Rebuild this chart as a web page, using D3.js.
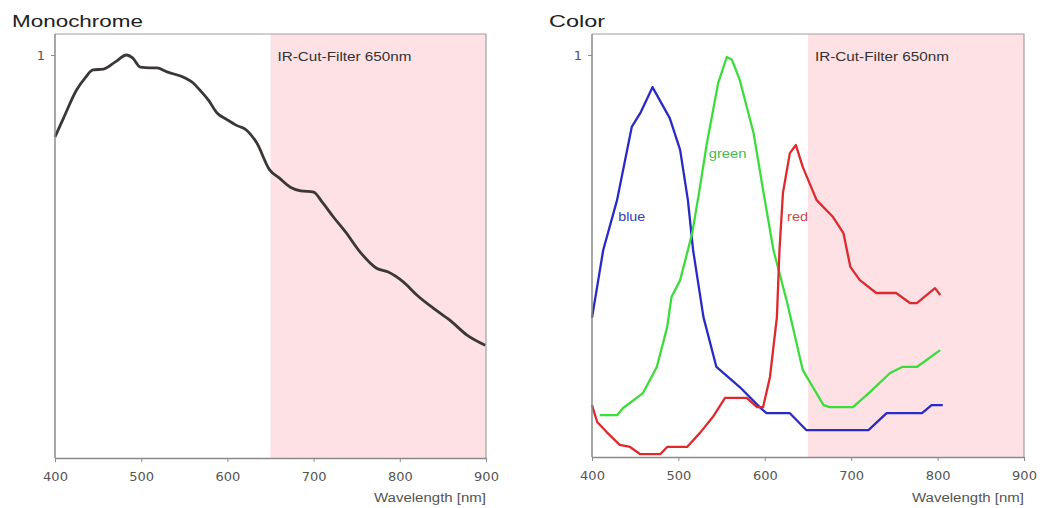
<!DOCTYPE html>
<html>
<head>
<meta charset="utf-8">
<script src="https://cdn.jsdelivr.net/npm/d3@7"></script>
<style>
  body { margin: 0; background: #fff; }
  svg { display: block; font-family: "Liberation Sans", Arial, sans-serif; }
</style>
</head>
<body>
<svg id="chart" width="1042" height="508"></svg>
<script>
// ---- data ----
const xTicks = [400, 500, 600, 700, 800, 900];
const filterStart = 650;
const filterLabel = "IR-Cut-Filter 650nm";

const monoWl  = [400, 410, 425, 435, 444, 456, 470, 483, 490, 499, 510, 518, 530, 551, 560, 568, 578, 588, 600, 610, 622, 634, 649, 660, 673, 685, 700, 710, 723, 737, 754, 773, 786, 804, 820, 840, 858, 878, 899];
const monoVal = [0.797, 0.844, 0.913, 0.943, 0.963, 0.965, 0.983, 1.0, 0.993, 0.970, 0.968, 0.968, 0.958, 0.943, 0.931, 0.913, 0.888, 0.856, 0.839, 0.826, 0.814, 0.782, 0.715, 0.695, 0.672, 0.663, 0.660, 0.635, 0.598, 0.561, 0.511, 0.471, 0.462, 0.437, 0.404, 0.370, 0.342, 0.305, 0.280];

const blueWl  = [400, 413, 429, 446, 456, 470, 490, 502, 511, 517, 529, 544, 571, 594, 602, 629, 648, 720, 741, 782, 793, 806];
const blueVal = [0.346, 0.515, 0.639, 0.821, 0.856, 0.920, 0.843, 0.764, 0.639, 0.515, 0.348, 0.224, 0.174, 0.124, 0.109, 0.109, 0.067, 0.067, 0.109, 0.109, 0.129, 0.129];

const greenWl  = [409, 429, 436, 459, 475, 487, 492, 502, 511, 516, 525, 533, 546, 556, 562, 571, 587, 598, 610, 626, 644, 668, 675, 702, 722, 745, 759, 776, 803];
const greenVal = [0.104, 0.104, 0.122, 0.159, 0.224, 0.323, 0.398, 0.440, 0.515, 0.557, 0.672, 0.781, 0.930, 0.995, 0.988, 0.938, 0.806, 0.664, 0.515, 0.383, 0.216, 0.129, 0.124, 0.124, 0.162, 0.209, 0.224, 0.224, 0.266];

const redWl  = [400, 406, 417, 432, 444, 456, 479, 487, 510, 525, 540, 554, 579, 591, 598, 606, 614, 617, 621, 629, 636, 644, 660, 679, 691, 699, 710, 729, 752, 768, 776, 797, 803];
const redVal = [0.129, 0.087, 0.062, 0.030, 0.025, 0.007, 0.007, 0.025, 0.025, 0.060, 0.100, 0.147, 0.147, 0.124, 0.124, 0.199, 0.348, 0.515, 0.657, 0.756, 0.776, 0.721, 0.639, 0.597, 0.557, 0.473, 0.440, 0.408, 0.408, 0.383, 0.383, 0.420, 0.403];

const zip = (wl, val) => wl.map((w, i) => ({ w: w, v: val[i] }));

const panels = [
    { title: "Monochrome", titleW: 131, left: 55, right: 486, top: 34, bottom: 458,
      series: [ { data: zip(monoWl, monoVal), color: "#3b3737", width: 2.8, curve: d3.curveMonotoneX } ],
      labels: [] },
    { title: "Color", titleW: 56, left: 592, right: 1024, top: 34, bottom: 457,
      series: [
        { data: zip(blueWl, blueVal),   color: "#2a2ac4", width: 2.3, curve: d3.curveLinear },
        { data: zip(greenWl, greenVal), color: "#3ddc3d", width: 2.3, curve: d3.curveLinear },
        { data: zip(redWl, redVal),     color: "#dd2a2e", width: 2.3, curve: d3.curveLinear }
      ],
      labels: [
        { text: "blue",  w: 446, v: 0.587, width: 27, color: "#3a3ab4" },
        { text: "green", w: 557, v: 0.744, width: 38, color: "#4cbb4c" },
        { text: "red",   w: 638, v: 0.587, width: 21, color: "#c44a4a" }
      ] }
];

const svg = d3.select("#chart");

for (let p of panels) {
    const x = d3.scaleLinear().domain([400, 900]).range([p.left, p.right]);
    // value 1 sits at the "1" tick, a little below the top frame
    const y = d3.scaleLinear().domain([0, 1]).range([p.bottom, 55]);

    const g = svg.append("g");

    // title
    g.append("text")
        .attr("x", p.left - 43)
        .attr("y", 27)
        .attr("font-size", 17)
        .attr("textLength", p.titleW)
        .attr("lengthAdjust", "spacingAndGlyphs")
        .attr("fill", "#222")
        .text(p.title);

    // IR cut region
    g.append("rect")
        .attr("x", x(filterStart))
        .attr("y", p.top)
        .attr("width", x(900) - x(filterStart))
        .attr("height", p.bottom - p.top)
        .attr("fill", "#fde1e4");

    // frame (top + right)
    g.append("path")
        .attr("d", `M${p.left},${p.top}H${p.right}V${p.bottom}`)
        .attr("fill", "none")
        .attr("stroke", "#a0a0a0")
        .attr("stroke-width", 1.2);

    g.append("text")
        .attr("x", x(filterStart) + 7)
        .attr("y", 61)
        .attr("font-size", 12)
        .attr("textLength", 134)
        .attr("lengthAdjust", "spacingAndGlyphs")
        .attr("fill", "#333")
        .text(filterLabel);

    // curves
    for (let s of p.series) {
        const line = d3.line().x(d => x(d.w)).y(d => y(d.v)).curve(s.curve);
        g.append("path")
            .datum(s.data)
            .attr("d", line)
            .attr("fill", "none")
            .attr("stroke", s.color)
            .attr("stroke-width", s.width)
            .attr("stroke-linejoin", "round");
    }

    for (let l of p.labels) {
        g.append("text")
            .attr("x", x(l.w) - l.width / 2)
            .attr("y", y(l.v))
            .attr("font-size", 12)
            .attr("textLength", l.width)
            .attr("lengthAdjust", "spacingAndGlyphs")
            .attr("fill", l.color)
            .text(l.text);
    }

    // axes
    const xAxis = d3.axisBottom(x).tickValues(xTicks).tickSize(4).tickSizeOuter(0).tickPadding(10);
    const gx = g.append("g")
        .attr("transform", `translate(0,${p.bottom})`)
        .call(xAxis);

    const yAxis = d3.axisLeft(y).tickValues([1]).tickSize(4).tickSizeOuter(0).tickPadding(6).tickFormat(d3.format("d"));
    const gy = g.append("g")
        .attr("transform", `translate(${p.left},0)`)
        .call(yAxis);
    gy.select(".domain").attr("d", `M0,${p.top}V${p.bottom}`);

    for (let a of [gx, gy]) {
        a.select(".domain").attr("stroke", "#8a8a8a").attr("stroke-width", 1.5);
        a.selectAll(".tick line").attr("stroke", "#8a8a8a");
        a.selectAll(".tick text")
            .attr("fill", "#555")
            .attr("font-size", 13)
            .attr("font-family", "DejaVu Sans, sans-serif");
    }

    g.append("text")
        .attr("x", p.right - 112)
        .attr("y", 502)
        .attr("font-size", 12)
        .attr("textLength", 112)
        .attr("lengthAdjust", "spacingAndGlyphs")
        .attr("fill", "#555")
        .text("Wavelength [nm]");
}
</script>
</body>
</html>
